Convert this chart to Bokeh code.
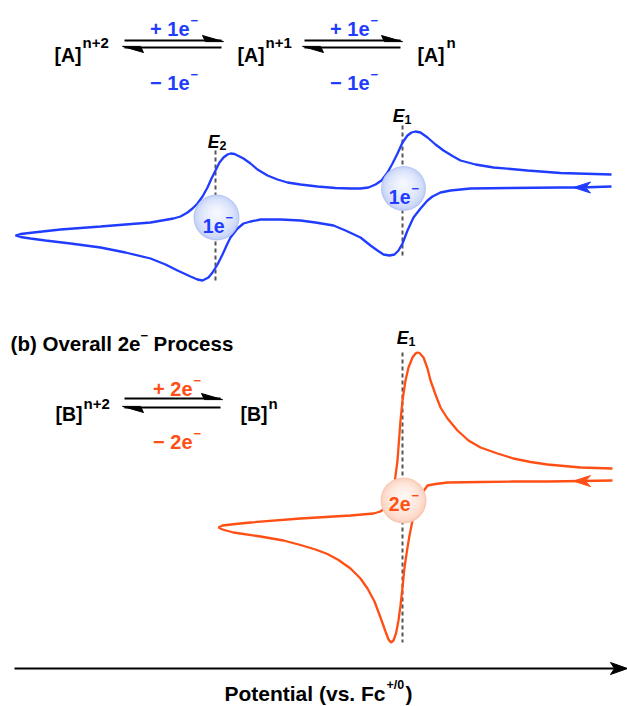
import numpy as np
from bokeh.plotting import figure
from bokeh.models import Range1d
from bokeh.core.properties import value
from bokeh.embed import file_html
from bokeh.resources import INLINE

# ---------------- data (schematic CV traces) ----------------
# x = potential (arbitrary units, increases to the right), y = current (arbitrary units,
# drawn downward-positive as in the schematic)

# (a) two sequential 1e- waves
cv_a_fwd_E = [611, 580, 560, 510, 470, 450, 440, 432, 427, 420, 413, 407, 402, 398, 394,
              389, 383, 377, 370, 360, 345, 333, 315, 300, 280, 260, 250, 243, 237, 230,
              227, 222, 217, 212, 208, 202, 197, 190, 177, 165, 150, 125, 100, 70, 45, 30,
              20, 15]
cv_a_fwd_i = [186, 187, 187, 187.5, 188, 190, 192, 196, 200, 208, 217, 230, 243, 250, 254,
              255, 254, 250, 245, 237, 230, 225, 222, 220, 219, 219, 221, 223, 228, 237,
              243, 254, 264, 272, 277, 280, 279, 276, 270, 264, 258, 252, 247, 243, 240, 238,
              236.5, 235]
cv_a_rev_E = [15, 20, 33, 60, 100, 150, 173, 180, 187, 192, 197, 202, 207, 211, 215, 219,
              223, 227, 230, 234, 238, 243, 250, 257, 267, 277, 287, 300, 317, 335, 350,
              360, 368, 375, 381, 387, 392, 397, 402, 407, 411, 415, 420, 427, 435, 443,
              452, 460, 475, 493, 527, 560, 611]
cv_a_rev_i = [235, 233.5, 232, 229, 226, 222, 218, 216, 212, 208, 203, 196, 187, 178, 170,
              162, 157, 154, 153, 153.5, 155.5, 158, 163, 169, 175, 179, 182, 184, 186,
              187.5, 188, 188, 187, 184, 180, 172, 163, 153, 142, 135, 132, 131, 132, 137,
              144, 150, 155.5, 160, 164, 167, 170, 172.5, 174]

# (b) one overall 2e- wave
cv_b_fwd_E = [612, 580, 547, 513, 480, 447, 435, 427, 420, 415, 412, 409, 407, 404, 402,
              400, 398, 395.5, 393, 390.5, 388, 385, 380, 374, 367, 360, 350, 338, 327, 315,
              300, 283, 260, 233, 222, 218]
cv_b_fwd_i = [480, 480.5, 481, 481, 481.5, 482, 483.5, 485, 495, 508, 520, 535, 547, 567,
              587, 605, 620, 633, 640, 642, 639, 631, 617, 601, 588, 578, 568, 559.5, 553.5,
              549, 544.5, 540, 536, 532, 529, 527]
cv_b_rev_E = [218, 222, 235, 250, 300, 350, 373, 380, 385, 389, 392, 394, 397, 398.5, 400,
              402, 405, 408, 412, 415, 417, 419, 423, 427, 430, 435, 440, 447, 457, 468,
              480, 497, 513, 530, 547, 580, 612]
cv_b_rev_i = [527, 525, 523.5, 522, 518, 515, 513, 511, 507, 500, 493, 483, 460, 440, 420,
              400, 380, 367, 357, 353, 352, 352.5, 357, 368, 380, 394, 407, 418, 430, 440,
              447, 453, 458, 461.5, 464, 467, 468]

E1_a, E2_a, E1_b = 402, 215, 402          # formal potentials (dashed markers)
scan_arrow_E = 573                         # where the scan-direction arrow sits

BLUE = "#1f3cff"
ORANGE = "#ff4f14"
FONT = value("Liberation Sans")

p = figure(width=627, height=706, x_range=Range1d(0, 627), y_range=Range1d(706, 0),
           output_backend="svg", toolbar_location=None, min_border=0,
           x_axis_location=None, y_axis_location=None)
p.grid.visible = False
p.outline_line_color = None
p.background_fill_color = "white"
p.border_fill_color = "white"


def txt(x, y, s, size, color="black", align="left", style="bold"):
    p.text(x=[x], y=[y], text=[s], text_font=FONT, text_font_size=f"{size}px",
           text_font_style=style, text_color=color, text_align=align,
           text_baseline="alphabetic")


def equilibrium(x0, x1, yu, yl):
    p.line([x0 + 2, x1 - 2], [yu, yu], line_width=2.2, color="black")
    p.patch([x1, x1 - 21, x1 - 18], [yu + 1.1, yu - 5, yu + 1.1], color="black")
    p.line([x0 + 2, x1 - 2], [yl, yl], line_width=2.2, color="black")
    p.patch([x0, x0 + 21, x0 + 18], [yl - 1.1, yl + 5, yl - 1.1], color="black")


def sphere(cx, cy, r, edge, centre, n=18):
    xs, ys, rs, cols = [], [], [], []
    for k in range(n):
        t = k / (n - 1)
        c = [int(round(edge[j] + (centre[j] - edge[j]) * t ** 0.45)) for j in range(3)]
        xs.append(cx)
        ys.append(cy - 0.2 * r * t)
        rs.append(r * (1 - 0.88 * t))
        cols.append("#%02x%02x%02x" % tuple(c))
    p.circle(x=xs, y=ys, radius=rs, fill_color=cols, line_color=None)


def scan_arrow(branch_E, branch_i, color):
    e = np.array(branch_E[::-1], dtype=float)
    i = np.array(branch_i[::-1], dtype=float)
    y = float(np.interp(scan_arrow_E, e, i))
    x = scan_arrow_E
    p.patch([x, x + 17, x + 12, x + 17], [y, y - 5.5, y, y + 5.5], color=color)


# ---------------- (a) two 1e- processes ----------------
equilibrium(122, 223, 40, 47)
equilibrium(302, 402, 40, 47)
txt(81, 54, "[A]", 19.5, align="right");  txt(82, 42, "n+2", 15)
txt(264, 54, "[A]", 19.5, align="right"); txt(265, 42, "n+1", 15)
txt(444, 54, "[A]", 19.5, align="right"); txt(446, 42, "n", 15)
for off in (0, 180):
    txt(189 + off, 28, "+ 1e", 20, BLUE, "right"); txt(190 + off, 20, "\u2212", 13, BLUE)
    txt(189 + off, 82, "\u2212 1e", 20, BLUE, "right"); txt(190 + off, 74, "\u2212", 13, BLUE)

p.line([E1_a, E1_a], [125, 258], line_dash="4 3", line_width=2, color="#555555")
p.line([E2_a, E2_a], [150, 282], line_dash="4 3", line_width=2, color="#555555")
p.line(cv_a_fwd_E + cv_a_rev_E, cv_a_fwd_i + cv_a_rev_i, line_width=2.3, color=BLUE)
scan_arrow(cv_a_fwd_E, cv_a_fwd_i, BLUE)

sphere(E1_a + 1, 188, 22.5, (182, 198, 245), (244, 247, 255))
sphere(E2_a + 1, 217, 23, (182, 198, 245), (244, 247, 255))
txt(410, 196, "1e", 19.5, BLUE, "right"); txt(411, 188, "\u2212", 13, BLUE)
txt(224, 225, "1e", 19.5, BLUE, "right"); txt(225, 217, "\u2212", 13, BLUE)

txt(404, 115, "E", 17.5, align="right", style="bold italic"); txt(404, 119, "1", 12.5)
txt(219, 141, "E", 17.5, align="right", style="bold italic"); txt(219, 145, "2", 12.5)

# ---------------- (b) overall 2e- process ----------------
txt(140, 343, "(b) Overall 2e", 20.5, align="right")
txt(140, 335, "\u2212", 13)
txt(153, 343, "Process", 20.5)

equilibrium(122, 222, 398, 407)
txt(82, 413, "[B]", 19.5, align="right");  txt(83, 403, "n+2", 15)
txt(267, 413, "[B]", 19.5, align="right"); txt(268, 403, "n", 15)
txt(192, 388, "+ 2e", 20, ORANGE, "right"); txt(193, 380, "\u2212", 13, ORANGE)
txt(192, 441, "\u2212 2e", 20, ORANGE, "right"); txt(193, 433, "\u2212", 13, ORANGE)

p.line([E1_b, E1_b], [352, 642], line_dash="4 3", line_width=2, color="#555555")
p.line(cv_b_fwd_E + cv_b_rev_E, cv_b_fwd_i + cv_b_rev_i, line_width=2.3, color=ORANGE)
scan_arrow(cv_b_fwd_E, cv_b_fwd_i, ORANGE)

sphere(E1_b + 1, 500, 23, (250, 198, 176), (255, 246, 241))
txt(410, 503, "2e", 19.5, ORANGE, "right"); txt(411, 495, "\u2212", 13, ORANGE)

txt(408, 337, "E", 17.5, align="right", style="bold italic"); txt(408, 341, "1", 12.5)

# ---------------- potential axis ----------------
p.line([14, 614], [668, 668], line_width=2.2, color="black")
p.patch([627, 610, 614, 610], [668, 662, 668, 674], color="black")
txt(385, 693, "Potential (vs. Fc", 21, align="right")
txt(386, 684, "+/0", 12.5)
txt(405, 693, ")", 21)

open("out.html", "w").write(file_html(p, INLINE))
